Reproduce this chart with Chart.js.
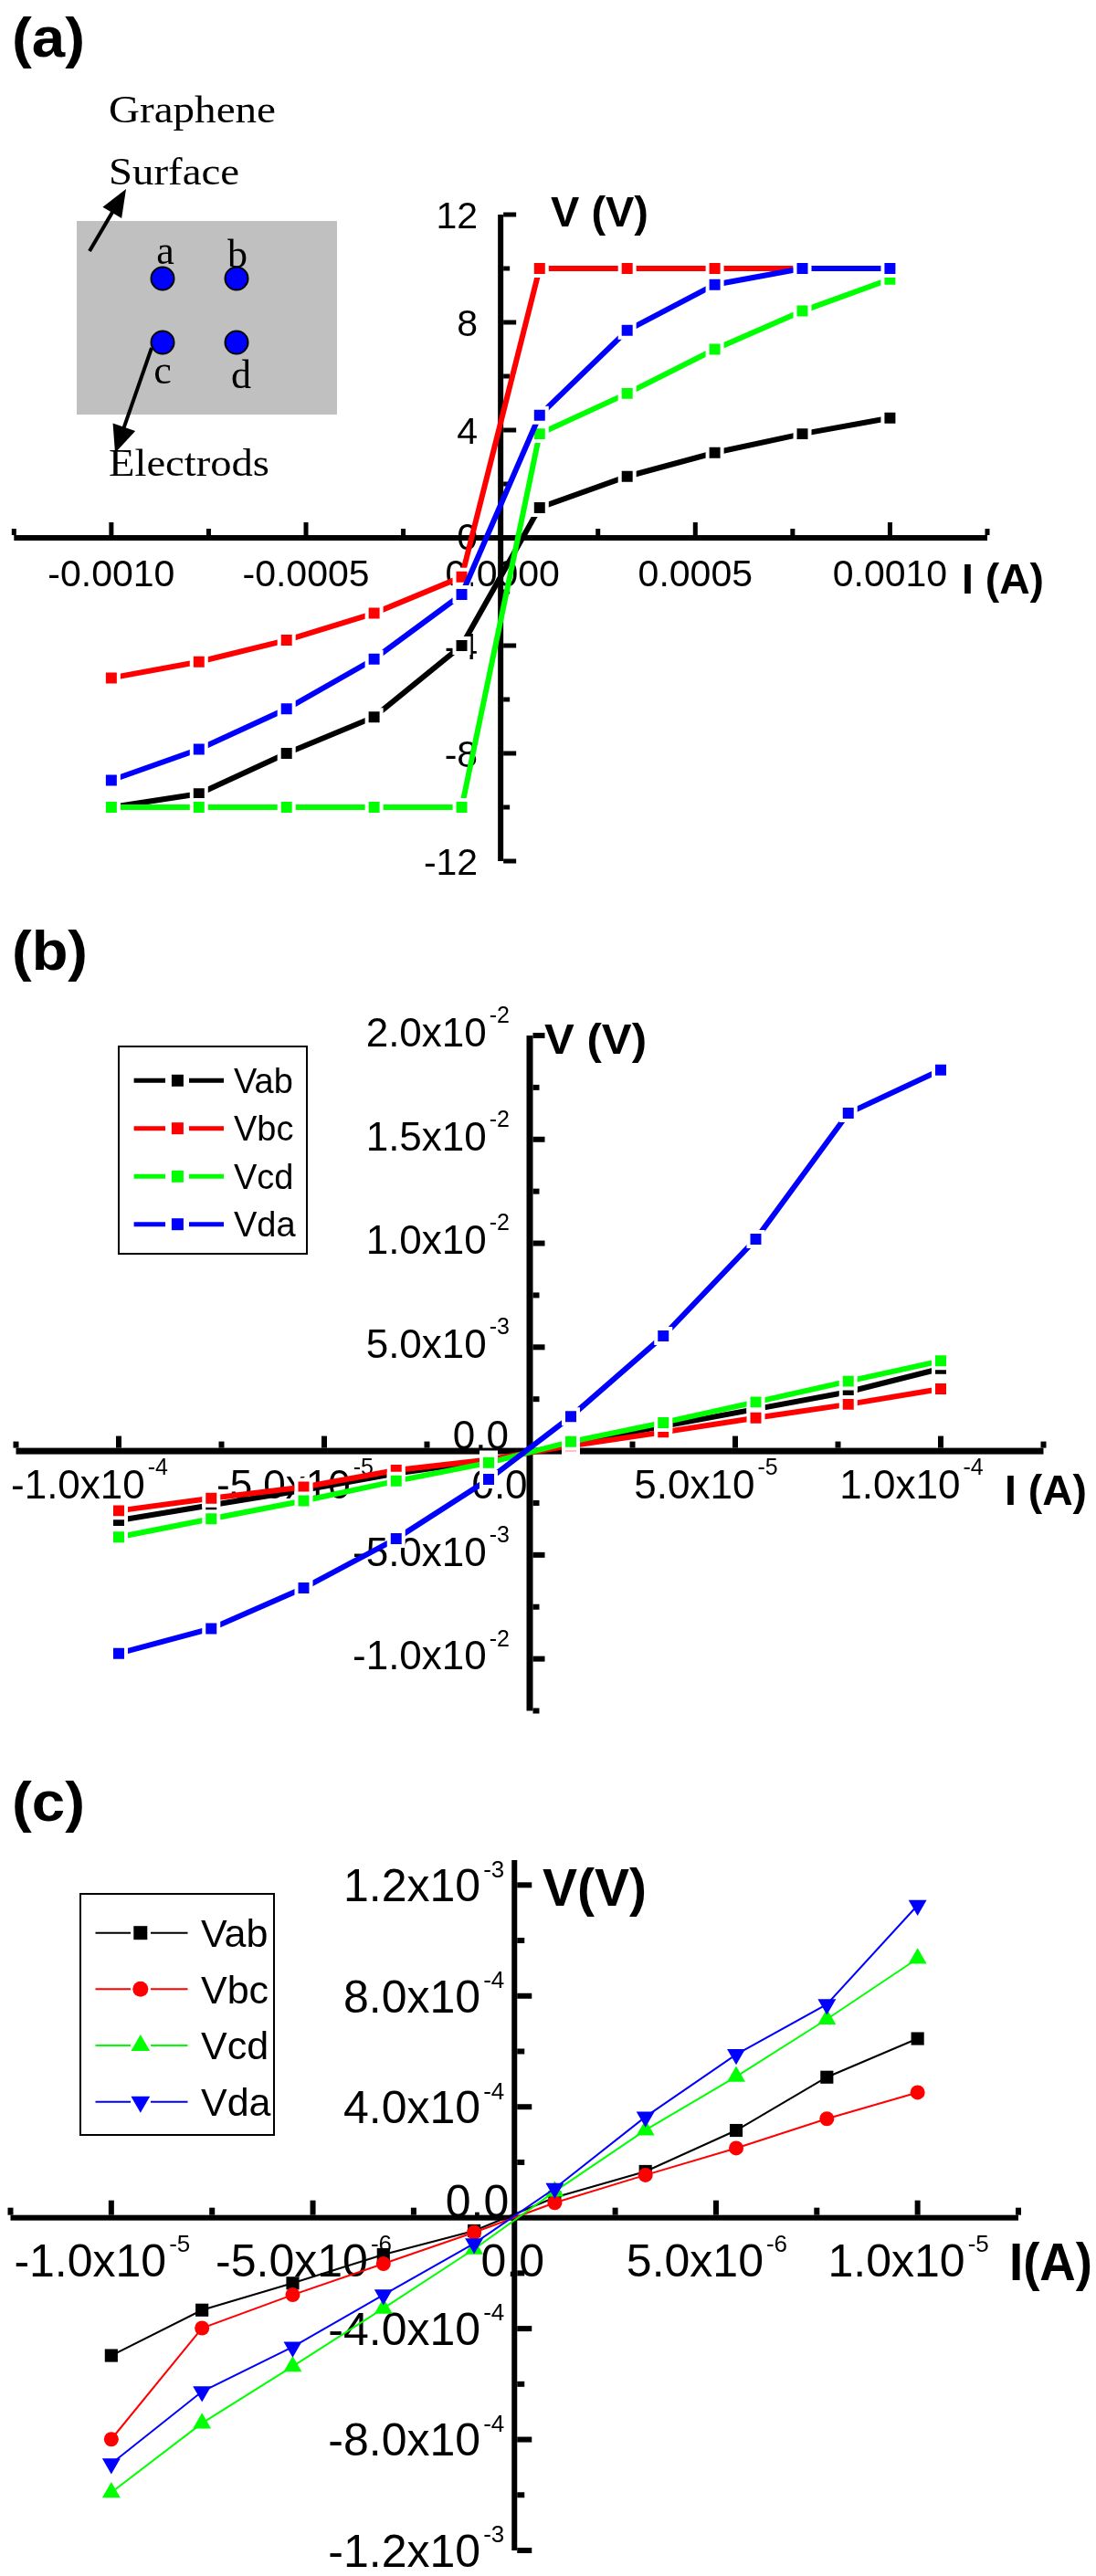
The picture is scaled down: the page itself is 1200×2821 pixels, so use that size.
<!DOCTYPE html>
<html><head><meta charset="utf-8">
<script src="https://cdn.jsdelivr.net/npm/chart.js@4.4.1/dist/chart.umd.min.js"></script>
<style>
html,body{margin:0;padding:0;background:#fff;}
body{width:1200px;height:2821px;position:relative;overflow:hidden;}
canvas{position:absolute;left:0;}
</style></head><body>
<canvas id="ca" width="1200" height="990" style="top:0px"></canvas>
<canvas id="cb" width="1200" height="930" style="top:990px"></canvas>
<canvas id="cc" width="1200" height="901" style="top:1920px"></canvas>
<script>
// ---------------- DATA ----------------
const seriesNames = ['Vab', 'Vbc', 'Vcd', 'Vda'];
const seriesColors = ['#000000', '#ff0000', '#00ff00', '#0000ff'];

// Panel (a): I (A) vs V (V)
const currentA = [-0.001, -0.000775, -0.00055, -0.000325, -0.0001, 0.0001, 0.000325, 0.00055, 0.000775, 0.001];
const vabA = [-10.0, -9.5, -8.0, -6.65, -4.0, 1.12, 2.28, 3.16, 3.86, 4.45];
const vbcA = [-5.2, -4.6, -3.8, -2.8, -1.45, 10.0, 10.0, 10.0, 10.0, 10.0];
const vcdA = [-10.0, -10.0, -10.0, -10.0, -10.0, 3.86, 5.36, 7.0, 8.42, 9.6];
const vdaA = [-9.0, -7.85, -6.35, -4.5, -2.1, 4.55, 7.7, 9.4, 10.0, 10.0];
const xTicksA = [-0.001, -0.0005, 0, 0.0005, 0.001];
const xTickMantA = ['-0.0010', '-0.0005', '0.0000', '0.0005', '0.0010'];
const xTickExpA = ['', '', '', '', ''];
const yTicksA = [12, 8, 4, 0, -4, -8, -12];
const yTickMantA = ['12', '8', '4', '0', '-4', '-8', '-12'];
const yTickExpA = ['', '', '', '', '', '', ''];

// Panel (b)
const currentB = [-1e-4, -7.75e-5, -5.5e-5, -3.25e-5, -1e-5, 1e-5, 3.25e-5, 5.5e-5, 7.75e-5, 1e-4];
const vabB = [-3.34e-3, -2.6e-3, -1.88e-3, -1.07e-3, -4.5e-4, 3.5e-4, 1.2e-3, 2.02e-3, 2.85e-3, 3.97e-3];
const vbcB = [-2.87e-3, -2.27e-3, -1.73e-3, -9.2e-4, -4.1e-4, 2.6e-4, 9.1e-4, 1.6e-3, 2.25e-3, 2.99e-3];
const vcdB = [-4.14e-3, -3.26e-3, -2.39e-3, -1.44e-3, -5.6e-4, 4.5e-4, 1.37e-3, 2.36e-3, 3.36e-3, 4.34e-3];
const vdaB = [-9.74e-3, -8.54e-3, -6.59e-3, -4.22e-3, -1.36e-3, 1.66e-3, 5.54e-3, 1.02e-2, 1.626e-2, 1.834e-2];
const xTicksB = [-1e-4, -5e-5, 0, 5e-5, 1e-4];
const xTickMantB = ['-1.0x10', '-5.0x10', '0.0', '5.0x10', '1.0x10'];
const xTickExpB = ['-4', '-5', '', '-5', '-4'];
const yTicksB = [2e-2, 1.5e-2, 1e-2, 5e-3, 0, -5e-3, -1e-2];
const yTickMantB = ['2.0x10', '1.5x10', '1.0x10', '5.0x10', '0.0', '-5.0x10', '-1.0x10'];
const yTickExpB = ['-2', '-2', '-2', '-3', '', '-3', '-2'];

// Panel (c)
const currentC = [-1e-5, -7.75e-6, -5.5e-6, -3.25e-6, -1e-6, 1e-6, 3.25e-6, 5.5e-6, 7.75e-6, 1e-5];
const vabC = [-4.97e-4, -3.33e-4, -2.36e-4, -1.33e-4, -4.7e-5, 7.3e-5, 1.67e-4, 3.15e-4, 5.07e-4, 6.46e-4];
const vbcC = [-7.99e-4, -3.98e-4, -2.78e-4, -1.66e-4, -5.3e-5, 5.4e-5, 1.54e-4, 2.51e-4, 3.57e-4, 4.52e-4];
const vcdC = [-9.91e-4, -7.41e-4, -5.36e-4, -3.27e-4, -1.13e-4, 9.5e-5, 3.16e-4, 5.09e-4, 7.16e-4, 9.35e-4];
const vdaC = [-8.87e-4, -6.27e-4, -4.66e-4, -2.78e-4, -9.3e-5, 1.06e-4, 3.64e-4, 5.89e-4, 7.7e-4, 1.127e-3];
const xTicksC = [-1e-5, -5e-6, 0, 5e-6, 1e-5];
const xTickMantC = ['-1.0x10', '-5.0x10', '0.0', '5.0x10', '1.0x10'];
const xTickExpC = ['-5', '-6', '', '-6', '-5'];
const yTicksC = [1.2e-3, 8e-4, 4e-4, 0, -4e-4, -8e-4, -1.2e-3];
const yTickMantC = ['1.2x10', '8.0x10', '4.0x10', '0.0', '-4.0x10', '-8.0x10', '-1.2x10'];
const yTickExpC = ['-3', '-4', '-4', '', '-4', '-4', '-3'];

// ---------------- HELPERS ----------------
const SANS = '"Liberation Sans", Arial, Helvetica, sans-serif';
const SERIF = '"Liberation Serif", "Times New Roman", serif';
const pts = (xs, ys) => xs.map((x, i) => ({x: x, y: ys[i]}));

function textW(ctx, s, x, y, font, w) {
  ctx.save();
  ctx.font = font; ctx.textAlign = 'left'; ctx.textBaseline = 'alphabetic';
  const m = ctx.measureText(s).width;
  ctx.translate(x, y); ctx.scale(w ? w / m : 1, 1);
  ctx.fillStyle = '#000'; ctx.fillText(s, 0, 0);
  ctx.restore();
}

function sciLabel(ctx, mant, exp, x, yMid, o, align) {
  ctx.font = o.f + 'px ' + SANS;
  const wm = ctx.measureText(mant).width;
  let ws = 0;
  if (exp) { ctx.font = o.fs + 'px ' + SANS; ws = ctx.measureText(exp).width + o.gap; }
  const tot = wm + ws;
  const left = align === 'right' ? x - tot : x - tot / 2;
  ctx.textAlign = 'left'; ctx.textBaseline = 'alphabetic'; ctx.fillStyle = '#000';
  ctx.font = o.f + 'px ' + SANS;
  ctx.fillText(mant, left, yMid + 0.358 * o.f);
  if (exp) {
    ctx.font = o.fs + 'px ' + SANS;
    ctx.fillText(exp, left + wm + o.gap, yMid - o.supDy + 0.358 * o.fs);
  }
}

function marker(ctx, style, cx, cy, size, color) {
  ctx.fillStyle = color; ctx.beginPath();
  if (style === 'rect') { ctx.rect(cx - size / 2, cy - size / 2, size, size); }
  else if (style === 'circle') { ctx.arc(cx, cy, size / 2, 0, Math.PI * 2); }
  else {
    const r = size / 2, d = style === 'triUp' ? 1 : -1;
    ctx.moveTo(cx, cy - d * r);
    ctx.lineTo(cx + 0.866 * r, cy + d * 0.5 * r);
    ctx.lineTo(cx - 0.866 * r, cy + d * 0.5 * r);
    ctx.closePath();
  }
  ctx.fill();
}

function arrow(ctx, x0, y0, x1, y1, hl, hw, lw) {
  const a = Math.atan2(y1 - y0, x1 - x0);
  const bx = x1 - hl * Math.cos(a), by = y1 - hl * Math.sin(a);
  ctx.strokeStyle = '#000'; ctx.lineWidth = lw;
  ctx.beginPath(); ctx.moveTo(x0, y0); ctx.lineTo(bx + 2 * Math.cos(a), by + 2 * Math.sin(a)); ctx.stroke();
  ctx.beginPath(); ctx.moveTo(x1, y1);
  ctx.lineTo(bx + hw / 2 * Math.sin(a), by - hw / 2 * Math.cos(a));
  ctx.lineTo(bx - hw / 2 * Math.sin(a), by + hw / 2 * Math.cos(a));
  ctx.closePath(); ctx.fillStyle = '#000'; ctx.fill();
}

// ---------------- PANEL LAYOUT ----------------
const panels = [
  {
    id: 'ca', top: 0, height: 990,
    x: {min: -0.00125, max: 0.00125, minor: 0.00025, ratio: 2},
    y: {min: -12, max: 12, minor: 2, ratio: 2},
    area: {left: 11, right: 1081, top: 235, bottom: 943},
    axisLW: 6, majLen: 14, minLen: 7, tickW: 5,
    series: [vabA, vbcA, vcdA, vdaA], xs: currentA,
    thick: true,
    xT: xTicksA, xM: xTickMantA, xE: xTickExpA, yT: yTicksA, yM: yTickMantA, yE: yTickExpA,
    lab: {f: 41, fs: 24, gap: 3, supDy: 18},
    xLabDx: 0, xZeroDx: 2, xLabDy: 38, yLabGap: 22, yZeroGap: 22, yLabDy: 0, yZeroDy: -2,
    titles: [
      {s: '(a)', x: 13, y: 62, f: 'bold 62px ' + SANS, w: 80},
      {s: 'V (V)', x: 603, y: 248, f: 'bold 47px ' + SANS, w: 107},
      {s: 'I (A)', x: 1053, y: 650, f: 'bold 47px ' + SANS, w: 90}
    ],
    inset: true
  },
  {
    id: 'cb', top: 990, height: 930,
    x: {min: -1.25e-4, max: 1.25e-4, minor: 2.5e-5, ratio: 2},
    y: {min: -1.25e-2, max: 2.0e-2, minor: 2.5e-3, ratio: 2},
    area: {left: 17.5, right: 1142.5, top: 1134, bottom: 1873.5},
    axisLW: 7, majLen: 13, minLen: 7, tickW: 6,
    series: [vabB, vbcB, vcdB, vdaB], xs: currentB,
    thick: true,
    xT: xTicksB, xM: xTickMantB, xE: xTickExpB, yT: yTicksB, yM: yTickMantB, yE: yTickExpB,
    lab: {f: 44, fs: 25, gap: 3, supDy: 19},
    xLabDx: -32, xZeroDx: -33, xLabDy: 36, yLabGap: 19, yZeroGap: 20, yLabDy: -4, yZeroDy: -18,
    titles: [
      {s: '(b)', x: 13, y: 1062, f: 'bold 62px ' + SANS, w: 83},
      {s: 'V (V)', x: 596, y: 1154, f: 'bold 47px ' + SANS, w: 112},
      {s: 'I (A)', x: 1100, y: 1648, f: 'bold 47px ' + SANS, w: 90}
    ],
    legend: {box: [130, 1146, 206, 227], rows: [1183.3, 1235.7, 1288.3, 1340.7],
             l1: [146.6, 181], l2: [207, 245], mx: 194.4, tx: 256, f: 38, lw: 5,
             styles: ['rect', 'rect', 'rect', 'rect'], sizes: [13, 13, 13, 13]}
  },
  {
    id: 'cc', top: 1920, height: 901,
    x: {min: -1.25e-5, max: 1.25e-5, minor: 2.5e-6, ratio: 2},
    y: {min: -1.2e-3, max: 1.29e-3, minor: 2e-4, ratio: 2},
    area: {left: 11, right: 1115, top: 2037, bottom: 2793},
    axisLW: 6, majLen: 16, minLen: 8, tickW: 6,
    series: [vabC, vbcC, vcdC, vdaC], xs: currentC,
    thick: false,
    xT: xTicksC, xM: xTickMantC, xE: xTickExpC, yT: yTicksC, yM: yTickMantC, yE: yTickExpC,
    lab: {f: 50, fs: 26, gap: 3, supDy: 18},
    xLabDx: -10, xZeroDx: -2, xLabDy: 46.5, yLabGap: 8, yZeroGap: 3, yLabDy: 0, yZeroDy: -19,
    titles: [
      {s: '(c)', x: 13, y: 1994, f: 'bold 62px ' + SANS, w: 80},
      {s: 'V(V)', x: 594, y: 2087, f: 'bold 57px ' + SANS, w: 114},
      {s: 'I(A)', x: 1105, y: 2497, f: 'bold 57px ' + SANS, w: 91}
    ],
    legend: {box: [88, 2074, 212, 264], rows: [2116.7, 2178.3, 2240, 2301.7],
             l1: [104.5, 143], l2: [165, 205.5], mx: 153.8, tx: 220, f: 43, lw: 2,
             styles: ['rect', 'circle', 'triUp', 'triDown'], sizes: [15, 17, 24, 24]}
  }
];

function drawInset(ctx) {
  ctx.save();
  ctx.fillStyle = '#c0c0c0'; ctx.fillRect(84, 242, 285, 212);
  const dots = [[178, 305], [259, 305], [178, 375], [259, 375]];
  dots.forEach(d => {
    ctx.beginPath(); ctx.arc(d[0], d[1], 12.5, 0, Math.PI * 2);
    ctx.fillStyle = '#0000ff'; ctx.fill(); ctx.lineWidth = 2; ctx.strokeStyle = '#000'; ctx.stroke();
  });
  ctx.fillStyle = '#000'; ctx.font = '44px ' + SERIF; ctx.textAlign = 'center'; ctx.textBaseline = 'alphabetic';
  ctx.fillText('a', 181, 289); ctx.fillText('b', 260, 293);
  ctx.fillText('c', 178, 420); ctx.fillText('d', 264, 425);
  arrow(ctx, 98, 275, 138, 207, 30, 24, 4);
  arrow(ctx, 166, 381, 126, 496, 30, 26, 4);
  textW(ctx, 'Graphene', 119, 134, '42px ' + SERIF, 183);
  textW(ctx, 'Surface', 119, 202, '42px ' + SERIF, 143);
  textW(ctx, 'Electrods', 119, 521, '42px ' + SERIF, 176);
  ctx.restore();
}

panels.forEach(P => {
  const off = P.top;
  const axesPlugin = {
    id: 'axes_' + P.id,
    beforeDatasetsDraw(chart) {
      const ctx = chart.ctx, xs = chart.scales.x, ys = chart.scales.y;
      ctx.save(); ctx.fillStyle = '#000';
      const x0 = xs.getPixelForValue(0), y0 = ys.getPixelForValue(0), L = P.axisLW;
      const xl = xs.getPixelForValue(P.x.min), xr = xs.getPixelForValue(P.x.max);
      const yt = ys.getPixelForValue(P.y.max), yb = ys.getPixelForValue(P.y.min);
      ctx.fillRect(xl, y0 - L / 2, xr - xl, L);
      ctx.fillRect(x0 - L / 2, yt, L, yb - yt);
      const kx0 = Math.ceil(P.x.min / P.x.minor - 1e-6), kx1 = Math.floor(P.x.max / P.x.minor + 1e-6);
      for (let k = kx0; k <= kx1; k++) {
        if (k === 0) continue;
        const px = xs.getPixelForValue(k * P.x.minor);
        const len = (Math.abs(k) % P.x.ratio === 0) ? P.majLen : P.minLen;
        ctx.fillRect(px - P.tickW / 2, y0 - L / 2 - len, P.tickW, len);
      }
      const ky0 = Math.ceil(P.y.min / P.y.minor - 1e-6), ky1 = Math.floor(P.y.max / P.y.minor + 1e-6);
      for (let k = ky0; k <= ky1; k++) {
        if (k === 0) continue;
        const py = ys.getPixelForValue(k * P.y.minor);
        const len = (Math.abs(k) % P.y.ratio === 0) ? P.majLen : P.minLen;
        ctx.fillRect(x0 + L / 2, py - P.tickW / 2, len, P.tickW);
      }
      // tick labels
      P.xT.forEach((v, i) => {
        const px = xs.getPixelForValue(v) + (v === 0 ? P.xZeroDx : P.xLabDx);
        sciLabel(ctx, P.xM[i], P.xE[i], px, y0 + P.xLabDy, P.lab, 'center');
      });
      P.yT.forEach((v, i) => {
        const py = ys.getPixelForValue(v) + (v === 0 ? P.yZeroDy : P.yLabDy);
        const px = x0 - L / 2 - (v === 0 ? P.yZeroGap : P.yLabGap) + L / 2 - 3;
        sciLabel(ctx, P.yM[i], P.yE[i], px, py, P.lab, 'right');
      });
      ctx.restore();
    },
    afterDraw(chart) {
      const ctx = chart.ctx;
      ctx.save();
      ctx.translate(0, -off);
      if (P.inset) drawInset(ctx);
      P.titles.forEach(t => textW(ctx, t.s, t.x, t.y, t.f, t.w));
      if (P.legend) {
        const G = P.legend;
        ctx.strokeStyle = '#000'; ctx.lineWidth = 2;
        ctx.strokeRect(G.box[0], G.box[1], G.box[2], G.box[3]);
        seriesNames.forEach((n, i) => {
          const y = G.rows[i];
          ctx.strokeStyle = seriesColors[i]; ctx.lineWidth = G.lw;
          ctx.beginPath(); ctx.moveTo(G.l1[0], y); ctx.lineTo(G.l1[1], y);
          ctx.moveTo(G.l2[0], y); ctx.lineTo(G.l2[1], y); ctx.stroke();
          marker(ctx, G.styles[i], G.mx, y, G.sizes[i], seriesColors[i]);
          ctx.fillStyle = '#000'; ctx.font = G.f + 'px ' + SANS;
          ctx.textAlign = 'left'; ctx.textBaseline = 'alphabetic';
          ctx.fillText(n, G.tx, y + 0.358 * G.f);
        });
      }
      ctx.restore();
    }
  };

  const stylesC = [
    {ps: 'rect', r: 10, rot: 0}, {ps: 'circle', r: 8, rot: 0},
    {ps: 'triangle', r: 11.5, rot: 0}, {ps: 'triangle', r: 11.5, rot: 180}
  ];
  const datasets = P.series.map((s, i) => {
    const base = {
      label: seriesNames[i], data: pts(P.xs, s), showLine: true,
      borderColor: seriesColors[i], backgroundColor: seriesColors[i],
      pointBackgroundColor: seriesColors[i], tension: 0, clip: false,
      order: 4 - i
    };
    if (P.thick) {
      return Object.assign(base, {borderWidth: 6, pointStyle: 'rect', pointRadius: 11.3,
        pointBorderColor: '#ffffff', pointBorderWidth: 4});
    }
    const st = stylesC[i];
    return Object.assign(base, {borderWidth: 2, pointStyle: st.ps, pointRadius: st.r,
      pointRotation: st.rot, pointBorderWidth: 0, pointBorderColor: seriesColors[i]});
  });

  new Chart(document.getElementById(P.id), {
    type: 'scatter',
    data: {datasets: datasets},
    options: {
      responsive: false, animation: false, devicePixelRatio: 1, events: [],
      layout: {padding: {left: P.area.left, right: 1200 - P.area.right,
                         top: P.area.top - off, bottom: off + P.height - P.area.bottom}},
      scales: {
        x: {type: 'linear', min: P.x.min, max: P.x.max, display: false},
        y: {type: 'linear', min: P.y.min, max: P.y.max, display: false}
      },
      plugins: {legend: {display: false}, tooltip: {enabled: false}, title: {display: false}}
    },
    plugins: [axesPlugin]
  });
});
</script></body></html>
